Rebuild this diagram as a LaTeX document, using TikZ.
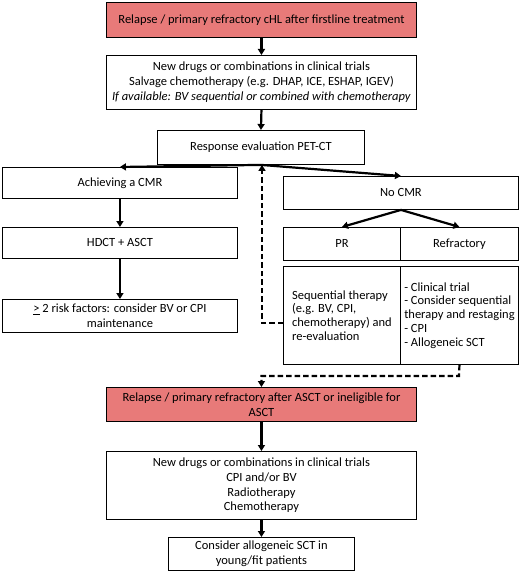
\documentclass[tikz,border=0pt]{standalone}
\usepackage{fontspec}
\setmainfont{Carlito}
\usetikzlibrary{arrows.meta,calc}
\definecolor{relred}{RGB}{232,122,121}
\tikzset{
  x=1pt,y=-1pt,
  box/.style={draw=black,line width=0.9pt,fill=white,anchor=north west,inner sep=2pt,
    font=\fontsize{12.5}{14.8}\selectfont,align=center},
  redbox/.style={box,fill=relred},
  lbox/.style={box,align=left,font=\fontsize{12.5}{13.8}\selectfont},
  arr/.style={line width=2.2pt,-{Triangle[width=7pt,length=6pt]}},
  darr/.style={line width=2.2pt,dash pattern=on 5.5pt off 3pt,-{Triangle[width=7pt,length=6pt]}},
}
\begin{document}
\begin{tikzpicture}
\useasboundingbox (0,0) rectangle (520,572);
\node[redbox,minimum width=310,minimum height=35] (r1) at (106,2) {Relapse / primary refractory cHL after firstline treatment};
\node[box,minimum width=310,minimum height=54] (b2) at (106,55) {New drugs or combinations in clinical trials\\Salvage chemotherapy (e.g. DHAP, ICE, ESHAP, IGEV)\\\textit{If available: BV sequential or combined with chemotherapy}};
\node[box,minimum width=207,minimum height=34] (resp) at (157,130) {Response evaluation PET-CT};
\node[box,minimum width=235,minimum height=31] (ach) at (2,167) {Achieving a CMR};
\node[box,minimum width=235,minimum height=33] (nocmr) at (283,176) {No CMR};
\node[box,minimum width=235,minimum height=31] (hdct) at (2,227) {HDCT + ASCT};
\node[box,minimum width=117,minimum height=33] (pr) at (283,227) {PR};
\node[box,minimum width=118,minimum height=33] (ref) at (400,227) {Refractory};
\node[box,minimum width=235,minimum height=33] (risk) at (2,299) {\underline{>} 2 risk factors: consider BV or CPI\\maintenance};
\node[lbox,minimum width=117,minimum height=98] (seq) at (283,266) {Sequential therapy\\(e.g. BV, CPI,\\chemotherapy) and\\re-evaluation};
\node[lbox,minimum width=118,minimum height=98] (ref2) at (400,266) {- Clinical trial\\- Consider sequential\\therapy and restaging\\- CPI\\- Allogeneic SCT};
\node[redbox,minimum width=310,minimum height=34] (r2) at (106,387) {Relapse / primary refractory after ASCT or ineligible for\\ASCT};
\node[box,minimum width=310,minimum height=68] (b3) at (106,451) {New drugs or combinations in clinical trials\\CPI and/or BV\\Radiotherapy\\Chemotherapy};
\node[box,minimum width=186,minimum height=33] (fin) at (168,537) {Consider allogeneic SCT in\\young/fit patients};
\draw[arr] (r1.south) -- (b2.north);
\draw[arr] (b2.south) -- (resp.north);
\draw[arr] (resp.south) -- (ach.north);
\draw[arr] (resp.south) -- (nocmr.north);
\draw[arr] (ach.south) -- (hdct.north);
\draw[arr] (hdct.south) -- (risk.north);
\draw[arr] (nocmr.south) -- (pr.north);
\draw[arr] (nocmr.south) -- (ref.north);
\coordinate (fb) at (262,323);
\draw[darr] (seq.west |- fb) -- (fb) -- (fb |- resp.south);
\coordinate (dn) at (459,376);
\draw[darr] (ref2.south) -- (dn) -| (r2.north);
\draw[arr] (r2.south) -- (b3.north);
\draw[arr] (b3.south) -- (fin.north);
\end{tikzpicture}
\end{document}
